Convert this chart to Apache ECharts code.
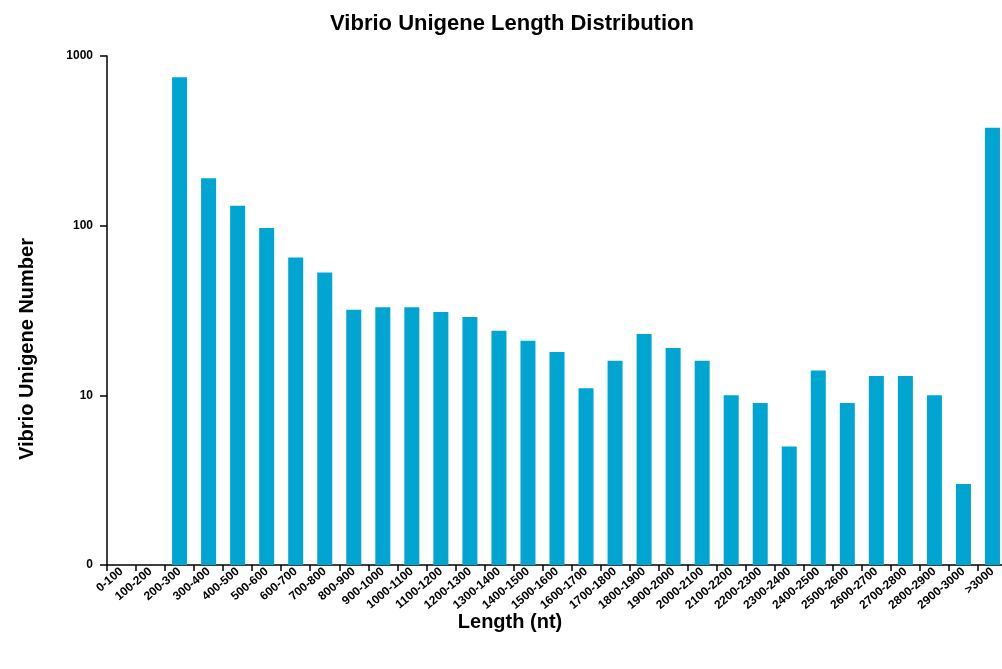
<!DOCTYPE html>
<html>
<head>
<meta charset="utf-8">
<title>Vibrio Unigene Length Distribution</title>
<script src="https://cdn.jsdelivr.net/npm/echarts@6/dist/echarts.min.js"></script>
<style>
  html, body { margin: 0; padding: 0; background: #ffffff; }
  #chart { width: 1002px; height: 669px; }
</style>
</head>
<body>
<div id="chart"></div>
<script>
// Length bins (nt)
const lengthBins = [
  '0-100', '100-200', '200-300', '300-400', '400-500', '500-600', '600-700',
  '700-800', '800-900', '900-1000', '1000-1100', '1100-1200', '1200-1300',
  '1300-1400', '1400-1500', '1500-1600', '1600-1700', '1700-1800', '1800-1900',
  '1900-2000', '2000-2100', '2100-2200', '2200-2300', '2300-2400', '2400-2500',
  '2500-2600', '2600-2700', '2700-2800', '2800-2900', '2900-3000', '>3000'
];

// Number of unigenes in each bin (0 = empty bin)
const unigeneCounts = [
  0, 0, 750, 190, 131, 97, 65,
  53, 32, 33, 33, 31, 29,
  24, 21, 18, 11, 16, 23,
  19, 16, 10, 9, 5, 14,
  9, 13, 13, 10, 3, 378
];

// Log-axis tick labels (value -> label); the baseline at 1 is printed as 0
const yTickLabels = { 1: '0', 10: '10', 100: '100', 1000: '1000' };

const FONT = '"Liberation Sans", Arial, Helvetica, sans-serif';
const BAR_COLOR = '#00A5D2';

const chart = echarts.init(document.getElementById('chart'), null, { renderer: 'canvas' });

const option = {
  backgroundColor: '#ffffff',
  animation: false,
  title: {
    text: 'Vibrio Unigene Length Distribution',
    left: 512,
    top: 13,
    textAlign: 'center',
    padding: 0,
    textStyle: { fontFamily: FONT, fontSize: 22, fontWeight: 'bold', color: '#000' }
  },
  graphic: [
    {
      type: 'text',
      x: 510, y: 622,
      style: {
        text: 'Length (nt)',
        fontFamily: FONT, fontSize: 20, fontWeight: 'bold', fill: '#000',
        align: 'center', verticalAlign: 'middle'
      }
    },
    {
      type: 'text',
      x: 27, y: 349,
      rotation: Math.PI / 2,
      style: {
        text: 'Vibrio Unigene Number',
        fontFamily: FONT, fontSize: 20, fontWeight: 'bold', fill: '#000',
        align: 'center', verticalAlign: 'middle'
      }
    }
  ],
  // plot area runs slightly past the right edge of the canvas
  grid: {
    left: 107, width: 900, top: 56, bottom: 104,
    containLabel: false, outerBoundsMode: 'none'
  },
  xAxis: {
    type: 'category',
    data: lengthBins,
    axisLine: { show: true, lineStyle: { color: '#000', width: 1.5 } },
    axisTick: { show: true, length: 6, lineStyle: { color: '#000', width: 1.5 } },
    axisLabel: {
      interval: 0, rotate: 40, margin: 5,
      fontFamily: FONT, fontSize: 12, fontWeight: 'bold', color: '#000'
    },
    splitLine: { show: false }
  },
  yAxis: {
    type: 'log',
    logBase: 10,
    min: 1,
    max: 1000,
    axisLine: { show: true, lineStyle: { color: '#000', width: 1.5 } },
    axisTick: { show: true, length: 7, lineStyle: { color: '#000', width: 1.5 } },
    axisLabel: {
      margin: 14,
      fontFamily: FONT, fontSize: 12, fontWeight: 'bold', color: '#000',
      formatter: v => yTickLabels[Math.round(v)] ?? String(v)
    },
    splitLine: { show: false }
  },
  series: [{
    type: 'bar',
    data: unigeneCounts.map(v => (v > 0 ? v : null)),
    barWidth: 15,
    itemStyle: { color: BAR_COLOR },
    emphasis: { disabled: true }
  }]
};

chart.setOption(option);
</script>
</body>
</html>
